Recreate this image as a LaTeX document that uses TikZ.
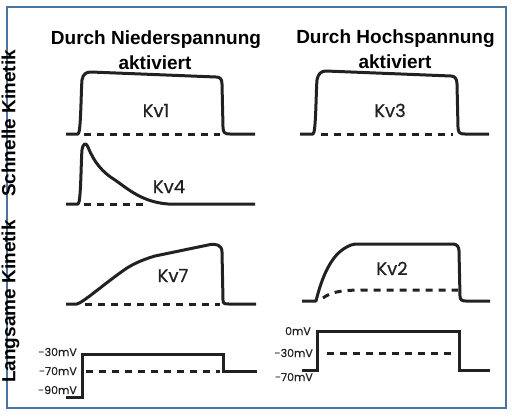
\documentclass[tikz,border=0pt]{standalone}
\usepackage{fontspec}
\setmainfont{Liberation Sans}
\newfontfamily\kvfont[FakeBold=0.6]{Poppins}
\usetikzlibrary{arrows.meta}
\definecolor{steelframe}{rgb}{0.29, 0.46, 0.63}
\definecolor{tracegray}{rgb}{0.13, 0.13, 0.13}

\begin{document}
\begin{tikzpicture}[x=1pt,y=-1pt]
      \tikzstyle{trace}=[color=tracegray,line width=3pt,line join=round]
      \tikzstyle{rest}=[trace,dash pattern=on 7pt off 6pt]
      \tikzstyle{header}=[font=\bfseries\fontsize{19}{22}\selectfont,anchor=base,inner sep=0pt]
      \tikzstyle{chan}=[font=\kvfont\fontsize{18}{21}\selectfont,anchor=base,inner sep=0pt,color=tracegray]
      \tikzstyle{volt}=[font=\kvfont\fontsize{11}{13}\selectfont,anchor=east,inner sep=0pt,color=tracegray]
      \useasboundingbox (0,0) rectangle (512,416);
      \draw[color=steelframe,line width=2pt] (7,7) rectangle (506,408);
      % row labels
      \node[header,rotate=90] (r_1) at (15.5,123.5) {Schnelle Kinetik};
      \node[header,rotate=90] (r_2) at (15.5,301.5) {Langsame Kinetik};
      % column headers
      \node[header] (h_1) at (156,44) {Durch Niederspannung};
      \node[header] (h_2) at (155,69) {aktiviert};
      \node[header] (h_3) at (395.5,43) {Durch Hochspannung};
      \node[header] (h_4) at (395,68) {aktiviert};
      % Kv1
      \draw[trace] (66,134) -- (78,134) .. controls (81,134) and (81,90) .. (82,80)
        .. controls (83,74) and (86,72) .. (91,72) -- (216,77)
        .. controls (220,77) and (222,79) .. (222,84) -- (223,127)
        .. controls (223,133) and (225,134) .. (230,134) -- (255,134);
      \draw[rest] (84,134) -- (220,134);
      \node[chan] (kv_1) at (156,117) {Kv1};
      % Kv4
      \draw[trace] (66,204) -- (78,204) .. controls (81,204) and (81,160) .. (82,150)
        .. controls (83,143) and (86,142) .. (88,147)
        .. controls (94,162) and (102,172) .. (115,180)
        .. controls (128,189) and (142,202) .. (168,204) -- (255,204);
      \draw[rest] (84,204) -- (143,204);
      \node[chan] (kv_4) at (169,193) {Kv4};
      % Kv7
      \draw[trace] (66,304) -- (77,304) .. controls (84,302) and (105,283) .. (127,268)
        .. controls (137,262) and (145,259) .. (155,256) -- (208,245)
        .. controls (216,243) and (222,245) .. (222,252) -- (223,300)
        .. controls (223,304) and (225,304) .. (229,304) -- (256,304);
      \draw[rest] (85,304) -- (220,304);
      \node[chan] (kv_7) at (173,282) {Kv7};
      % Kv3
      \draw[trace] (300,134) -- (313,134) .. controls (316,134) and (316,90) .. (317,80)
        .. controls (318,74) and (321,71) .. (326,71) -- (451,76)
        .. controls (455,76) and (457,79) .. (457,84) -- (458,127)
        .. controls (458,133) and (460,134) .. (465,134) -- (489,134);
      \draw[rest] (321,134) -- (453,134);
      \node[chan] (kv_3) at (390,117) {Kv3};
      % Kv2
      \draw[trace] (302,301) -- (316,301) .. controls (320,285) and (328,258) .. (345,248)
        .. controls (350,245) and (353,244) .. (358,244) -- (453,244)
        .. controls (457,244) and (459,247) .. (459,251) -- (460,296)
        .. controls (460,300) and (462,301) .. (466,301) -- (490,301);
      \draw[rest] (323,298) .. controls (332,291) and (345,290) .. (365,290) -- (458,290);
      \node[chan] (kv_2) at (392,275) {Kv2};
      % voltage steps
      \draw[trace,line join=miter] (66,397) -- (82,397) -- (82,354) -- (223,354) -- (223,371) -- (257,371);
      \draw[rest] (86,371) -- (220,371);
      \node[volt] (u_1) at (77,352) {-30mV};
      \node[volt] (u_2) at (77,371) {-70mV};
      \node[volt] (u_3) at (77,390) {-90mV};
      \draw[trace,line join=miter] (302,370) -- (317,370) -- (317,331) -- (459,331) -- (459,370) -- (490,370);
      \draw[rest] (327,353) -- (457,353);
      \node[volt] (u_4) at (311,331) {0mV};
      \node[volt] (u_5) at (313,353) {-30mV};
      \node[volt] (u_6) at (313,377) {-70mV};
\end{tikzpicture}
\end{document}
